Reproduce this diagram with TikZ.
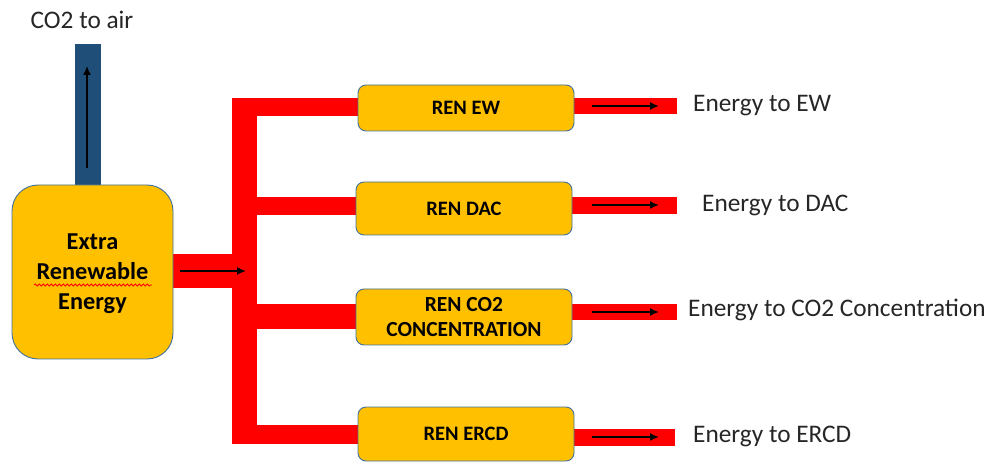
\documentclass[tikz,border=0pt]{standalone}
\usepackage{fontspec}
\setmainfont{Carlito}
\usetikzlibrary{arrows.meta,backgrounds,decorations.pathmorphing}
\definecolor{boxfill}{HTML}{FFC000}
\definecolor{boxline}{HTML}{41719C}
\definecolor{pipered}{HTML}{FF0000}
\definecolor{pipeblue}{HTML}{1F4E79}
\definecolor{txt}{HTML}{262626}
\tikzset{
  renbox/.style={draw=boxline, line width=0.9pt, fill=boxfill, rounded corners=8pt,
    minimum width=216pt, align=center, inner sep=0pt,
    font=\fontsize{20.5}{22}\selectfont\bfseries},
  bigbox/.style={draw=boxline, line width=0.9pt, fill=boxfill, rounded corners=26pt,
    minimum width=161pt, minimum height=174pt, align=center, inner sep=0pt,
    font=\fontsize{24.3}{30}\selectfont\bfseries},
  lbl/.style={anchor=west, inner sep=0pt, text=txt, font=\fontsize{25.3}{28}\selectfont},
  redpipe/.style={draw=pipered, line cap=butt},
  bluepipe/.style={draw=pipeblue, line cap=butt},
  flow/.style={-{Latex[length=9pt,width=8pt]}, line width=1.6pt, black}
}
\begin{document}
\begin{tikzpicture}[x=1pt,y=-1pt]
\useasboundingbox (0,0) rectangle (991,462);
% nodes
\node[bigbox] (big) at (92.5,272) {};
\node[align=center, inner sep=0pt, font=\fontsize{24.3}{30}\selectfont\bfseries] (bigtxt) at (92.5,274) {Extra\\Renewable\\Energy};
\node[renbox, minimum height=46pt] (ew) at (466,108) {REN EW};
\node[renbox, minimum height=53pt] (dac) at (464,208.5) {REN DAC};
\node[renbox, minimum height=56pt, font=\fontsize{21.5}{26}\selectfont\bfseries] (co2) at (464,317) {\raisebox{-2pt}{REN CO2}\\\raisebox{-1pt}{CONCENTRATION}};
\node[renbox, minimum height=54pt] (ercd) at (466,434) {REN ERCD};
\node[anchor=center, inner sep=0pt, text=txt, font=\fontsize{25.3}{28}\selectfont] (air) at (82,20) {CO2 to air};
\node[lbl] (lew) at (693,106) {Energy to EW};
\node[lbl] (ldac) at (702,205) {Energy to DAC};
\node[lbl] (lco2) at (688,310) {Energy to CO2 Concentration};
\node[lbl] (lercd) at (693,436) {Energy to ERCD};
% coordinates
\coordinate (bt) at (88,44);
\coordinate (vtop) at (244.5,98);
\coordinate (vbot) at (244.5,444);
\coordinate (oew) at (677,106);
\coordinate (odac) at (677,205.5);
\coordinate (oco2) at (677,312);
\coordinate (oercd) at (675,437.5);
\begin{scope}[on background layer]
  \draw[bluepipe, line width=26pt] (bt) -- (bt |- big.north);
  \draw[redpipe, line width=25pt] (vtop) -- (vbot);
  \draw[redpipe, line width=34pt] (big.east |- 0,271) -- (257,271);
  \draw[redpipe, line width=18pt] (232,107) -- (ew.west |- 0,107);
  \draw[redpipe, line width=18pt] (232,206) -- (dac.west |- 0,206);
  \draw[redpipe, line width=25pt] (232,316.5) -- (co2.west |- 0,316.5);
  \draw[redpipe, line width=19pt] (232,434.5) -- (ercd.west |- 0,434.5);
  \draw[redpipe, line width=16pt] (ew.east |- oew) -- (oew);
  \draw[redpipe, line width=17pt] (dac.east |- odac) -- (odac);
  \draw[redpipe, line width=16pt] (co2.east |- oco2) -- (oco2);
  \draw[redpipe, line width=17pt] (ercd.east |- oercd) -- (oercd);
\end{scope}
% arrows
\draw[flow] (87,168) -- (87,66);
\draw[flow] (180,271) -- (246,271);
\draw[flow] (592,106) -- (659,106);
\draw[flow] (592,205) -- (659,205);
\draw[flow] (592,312) -- (659,312);
\draw[flow] (592,437) -- (659,437);
% spell-check squiggle under "Renewable"
\draw[pipered, line width=0.8pt, decorate, decoration={snake, amplitude=1pt, segment length=4pt}] (34,285) -- (152,285);
\end{tikzpicture}
\end{document}
